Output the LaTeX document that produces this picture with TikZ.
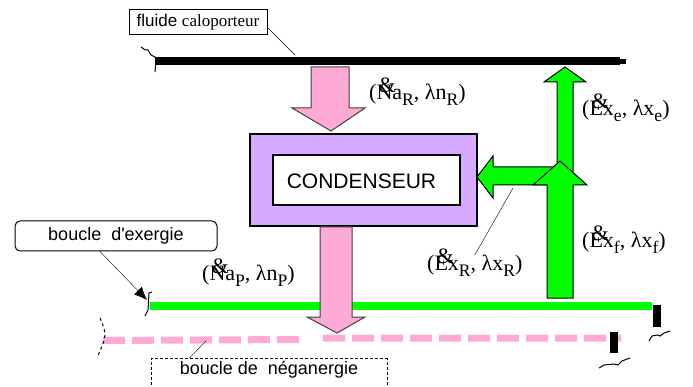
\documentclass[tikz,border=0pt]{standalone}
\usepackage{fontspec}
\setmainfont{Liberation Serif}
\setsansfont{Liberation Sans}
\usepackage{tikz}
\usetikzlibrary{
  arrows.meta,
  calc,
  positioning
}
\definecolor{flowpink}{RGB}{255,170,213}
\definecolor{flowgreen}{RGB}{0,255,0}
\definecolor{lavender}{RGB}{214,170,255}

\newcommand{\flowdot}[1]{\makebox[0pt][l]{\hspace{0.1em}\raisebox{0.3em}{\&}}#1}
\newcommand{\flowsub}[1]{\raisebox{-0.3em}{\scalebox{0.8}{#1}}}

\begin{document}
\begin{tikzpicture}[x = 1pt, y = -1pt]
  \tikzset{>=latex, every node/.style = {inner sep = 0pt},
    tag/.style = {draw, line width = 1pt, font = \sffamily\fontsize{18}{20}\selectfont},
    flux/.style = {anchor = west, font = \fontsize{22}{24}\selectfont},
    pinkflow/.style = {fill = flowpink, draw = black!75, line width = 1pt},
    greenflow/.style = {fill = flowgreen, draw = black, line width = 1pt},
    breakmark/.style = {line width = 1pt}}

  \useasboundingbox (0,0) rectangle (693,387);

  % fluide caloporteur
  \draw[line width = 8] (155,61) -- (620,61);
  \draw[line width = 5] (620,62) -- (626,62);
  \draw[breakmark] (141,47) -- (145,50) -- (148,50) -- (151,55) -- (155,57) -- (156,60) -- (155,72);
  \node[tag, minimum width = 138, minimum height = 25, font = \sffamily\fontsize{17}{20}\selectfont] (fluide) at (198,22.5) {fluide {\rmfamily caloporteur}};
  \coordinate (fluideend) at (295,55);
  \draw ([yshift = -5pt]fluide.east) -- (fluideend);

  \filldraw[pinkflow] (311,67) -- (349,67) -- (349,108) -- (365,108) -- (331,131) -- (292,108) -- (311,108) -- cycle;

  % condenseur
  \node[draw, fill = lavender, line width = 1.2pt, minimum width = 227, minimum height = 92] (condenseur) at (363.5,180) {};
  \node[draw, fill = white, line width = 1.2pt, minimum width = 187, minimum height = 50] (condin) at (366.5,180) {};
  \node[font = \sffamily\fontsize{21}{24}\selectfont] (condtext) at (361.5,181) {CONDENSEUR};

  % boucles
  \draw[flowpink, line width = 7, dash pattern = on 22pt off 7pt] (103,340.5) -- (300,339.5) (323,338) -- (621,338);
  \draw[flowgreen, line width = 7.5] (150,306) -- (652,306);

  \filldraw[greenflow] (573,185) -- (573,82) -- (586,82) -- (565,67) -- (544,82) -- (557,82) -- (557,167) -- (493,167) -- (493,156) -- (477,177) -- (493,198) -- (493,185) -- cycle;
  \filldraw[greenflow] (547,298) -- (547,185) -- (533,185) -- (560,161) -- (587,185) -- (573,185) -- (573,298) -- cycle;

  \filldraw[pinkflow] (320,227) -- (352,227) -- (352,317) -- (365,317) -- (337,333) -- (307,317) -- (320,317) -- cycle;

  \draw[breakmark] (152,292) -- (149,293) -- (148,310) -- (145,316);
  \draw[breakmark, dashed] (100,318) .. controls (107,335) .. (97,358);
  \fill (653,305) rectangle (661,327);
  \fill (610,332) rectangle (618,353);
  \draw[breakmark] (649,341) -- (652,336) -- (657,335) -- (660,336) -- (664,333) -- (670,331);
  \draw[breakmark] (599,368) -- (604,365) -- (614,364) -- (618,365) -- (622,361) -- (630,358);

  \node[tag, rounded corners = 5pt, minimum width = 202, minimum height = 30] (exergie) at (116,236) {boucle~ d\textquotesingle exergie};
  \coordinate (exergieend) at (147,300);
  \draw[-{Latex[length = 13pt, width = 11pt]}] ([xshift = -16pt]exergie.south) -- (exergieend);

  \node[tag, dashed, dash pattern = on 3pt off 2pt, minimum width = 236, minimum height = 45, anchor = north] (neganergie) at (269,358) {};
  \node[font = \sffamily\fontsize{18}{20}\selectfont, below = 3pt of neganergie.north] (negantext) {boucle de~ néganergie};
  \coordinate (neganend) at (206,341);
  \draw ([xshift = 39pt]neganergie.north west) -- (neganend);

  % flux
  \node[flux] (naR) at (369,92) {(\flowdot{N}a\flowsub{R}, λn\flowsub{R})};
  \node[flux] (exe) at (582,108) {(\flowdot{E}x\flowsub{e}, λx\flowsub{e})};
  \node[flux] (exf) at (582,240) {(\flowdot{E}x\flowsub{f}, λx\flowsub{f})};
  \node[flux] (exR) at (427,263) {(\flowdot{E}x\flowsub{R}, λx\flowsub{R})};
  \node[flux] (naP) at (202,273) {(\flowdot{N}a\flowsub{P}, λn\flowsub{P})};
  \coordinate (exRend) at (513,188);
  \draw ([yshift = -6pt]exR.north) -- (exRend);
\end{tikzpicture}
\end{document}
